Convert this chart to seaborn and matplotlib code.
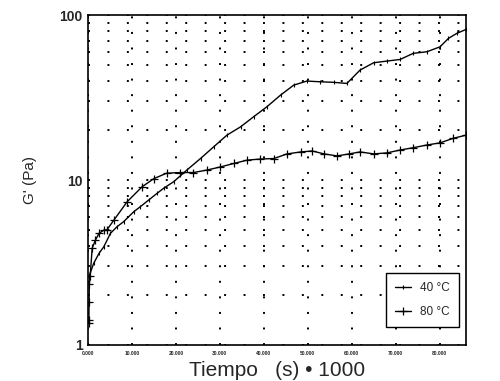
import pandas as pd
import matplotlib
matplotlib.use('Agg')
import matplotlib.pyplot as plt
import seaborn as sns
import numpy as np

# tiempo en miles de segundos, G' en Pa
t40 = [0.2, 1.3, 2.5, 3.6, 5.1, 6.6, 8.1, 10.4, 11.9, 13.8, 15.7, 17.2, 19.5,
       22.5, 25.6, 28.6, 31.6, 34.7, 37.7, 40.7, 43.8, 46.8, 49.8, 52.8, 55.9,
       58.9, 61.9, 65.0, 68.0, 71.0, 74.0, 77.1, 80.1, 82.0, 83.9, 86.0]
g40 = [2.59, 3.13, 3.59, 3.94, 4.75, 5.21, 5.59, 6.42, 6.89, 7.56, 8.30, 8.91,
       9.77, 11.5, 13.5, 15.9, 18.7, 21.0, 24.2, 27.8, 32.7, 37.6, 39.8, 39.4,
       39.1, 38.5, 46.4, 51.4, 52.6, 53.8, 58.6, 59.9, 64.2, 72.2, 77.4, 81.8]

t80 = [0.15, 0.2, 0.25, 0.3, 0.5, 0.95, 1.7, 2.5, 3.6, 4.3, 5.9, 8.9, 12.3,
       15.0, 17.9, 21.0, 24.0, 27.1, 30.1, 33.2, 36.2, 39.2, 42.3, 45.3, 48.4,
       51.0, 53.7, 56.7, 59.4, 61.9, 65.0, 68.0, 71.0, 74.0, 77.1, 80.1, 83.1, 86.0]
g80 = [1.35, 1.42, 1.83, 2.35, 2.63, 3.86, 4.33, 4.75, 4.97, 4.99, 5.72, 7.38,
       9.1, 10.2, 11.0, 11.1, 11.1, 11.5, 12.0, 12.6, 13.2, 13.4, 13.5, 14.4,
       14.8, 15.0, 14.4, 14.0, 14.4, 14.8, 14.4, 14.6, 15.2, 15.7, 16.3, 16.8,
       17.9, 18.7]

xticks = [0, 10, 20, 30, 40, 50, 60, 70, 80]
xlabels = ['0.000', '10.000', '20.000', '30.000', '40.000', '50.000',
           '60.000', '70.000', '80.000']

sns.set_style('white')
plt.rcParams['font.family'] = ['Liberation Sans', 'DejaVu Sans']

fig = plt.figure(figsize=(5, 3.81), dpi=100)
ax = fig.add_axes([0.176, 0.0945, 0.756, 0.866])

df40 = pd.DataFrame({'t': t40, 'g': g40})
df80 = pd.DataFrame({'t': t80, 'g': g80})
sns.lineplot(data=df40, x='t', y='g', ax=ax, color='black', lw=1.0,
             marker='|', markersize=3, mew=0.8, mec='black',
             label='40 °C', sort=False)
sns.lineplot(data=df80, x='t', y='g', ax=ax, color='black', lw=1.0,
             marker='+', markersize=6, mew=0.9, mec='black',
             label='80 °C', sort=False)

ax.set_yscale('log')
ax.set_ylim(1, 100)
ax.set_xlim(0, 86)
ax.set_xticks(xticks)
ax.set_xticklabels(xlabels, fontsize=3.5, fontweight='bold')
ax.set_yticks([1, 10, 100])
ax.set_yticklabels(['1', '10', '100'], fontsize=10, fontweight='bold')
ax.yaxis.set_minor_locator(matplotlib.ticker.LogLocator(base=10, subs=np.arange(2, 10)))
ax.yaxis.set_minor_formatter(matplotlib.ticker.NullFormatter())
ax.tick_params(which='both', length=0)
ax.tick_params(axis='x', pad=4)
ax.tick_params(axis='y', pad=4)

ax.grid(True, which='both', axis='y', color='black', lw=1.4, ls=(0, (1, 9)))
ax.grid(True, which='major', axis='x', color='black', lw=1.4, ls=(0, (1, 7)))

for s in ax.spines.values():
    s.set_color('black')
    s.set_linewidth(1.2)

ax.set_xlabel('Tiempo   (s) • 1000', fontsize=15)
ax.xaxis.set_label_coords(0.5, -0.05)
ax.set_ylabel("G' (Pa)", fontsize=11, labelpad=16)

leg = ax.legend(loc='lower left', bbox_to_anchor=(0.772, 0.036), fancybox=False,
                edgecolor='black', framealpha=1, fontsize=8.5, handlelength=1.3,
                borderpad=0.8, labelspacing=1.0)
leg.get_frame().set_linewidth(1.0)

fig.savefig('out.png', dpi=100)
